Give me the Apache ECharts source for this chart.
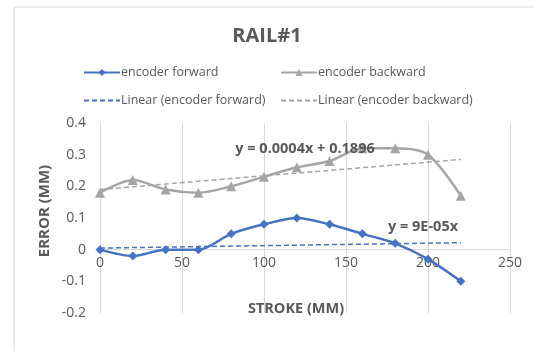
<!DOCTYPE html>
<html><head><meta charset="utf-8">
<script src="https://cdn.jsdelivr.net/npm/echarts@6/dist/echarts.min.js"></script>
<style>html,body{margin:0;padding:0;background:#fff}#c{width:534px;height:351px}</style>
</head><body><div id="c"></div>
<script>
const strokes = [0, 20, 40, 60, 80, 100, 120, 140, 160, 180, 200, 220];
const forward = [0, -0.02, 0, 0, 0.05, 0.08, 0.10, 0.08, 0.05, 0.02, -0.03, -0.10];
const backward = [0.18, 0.22, 0.19, 0.18, 0.20, 0.23, 0.26, 0.28, 0.32, 0.32, 0.30, 0.17];
const trendX = [0, 220];
const trendForward = [0.005, 0.022];
const trendBackward = [0.19, 0.285];
const xTicks = [0, 50, 100, 150, 200, 250];
const yTicks = [-0.2, -0.1, 0, 0.1, 0.2, 0.3, 0.4];
const eqBackward = 'y = 0.0004x + 0.1896';
const eqForward = 'y = 9E-05x';

const BLUE = '#4472C4', GRAY = '#A5A5A5', TXT = '#595959', GRID = '#D9D9D9';
const FONT = 'Open Sans';
const pair = (xs, ys) => xs.map((x, i) => [x, ys[i]]);

const chart = echarts.init(document.getElementById('c'), null, {renderer: 'canvas'});
const legendBase = {orient: 'horizontal', itemWidth: 36, itemHeight: 9, itemGap: 0,
  textStyle: {color: TXT, fontFamily: FONT, fontSize: 12.5, padding: [0, 0, 0, -4]}};
const xMin = xTicks[0], xMax = xTicks[xTicks.length - 1];
chart.setOption({
  animation: false,
  title: {text: 'RAIL#1', left: 'center', top: 21,
    textStyle: {color: TXT, fontFamily: FONT, fontSize: 20, fontWeight: 'bold'}},
  legend: [
    Object.assign({}, legendBase, {left: 78, top: 61, data: ['encoder forward']}),
    Object.assign({}, legendBase, {left: 275, top: 61, data: ['encoder backward']}),
    Object.assign({}, legendBase, {left: 78, top: 89, data: [{name: 'Linear (encoder forward)', itemStyle: {opacity: 0}}]}),
    Object.assign({}, legendBase, {left: 275, top: 89, data: [{name: 'Linear (encoder backward)', itemStyle: {opacity: 0}}]})
  ],
  grid: [
    {left: 100, right: 24, top: 123, bottom: 38},
    {left: 100, right: 24, top: 123, bottom: 101}
  ],
  xAxis: [
    {type: 'value', gridIndex: 0, min: xMin, max: xMax, interval: 50,
      axisLine: {onZero: true, lineStyle: {color: GRID, width: 1}},
      axisTick: {show: false}, axisLabel: {show: false},
      splitLine: {show: true, lineStyle: {color: GRID, width: 1}}},
    {type: 'value', gridIndex: 1, min: xMin, max: xMax, interval: 50,
      axisLine: {show: false}, axisTick: {show: false}, splitLine: {show: false},
      axisLabel: {color: TXT, fontFamily: FONT, fontSize: 14, margin: 6}}
  ],
  yAxis: [
    {type: 'value', gridIndex: 0, min: yTicks[0], max: yTicks[yTicks.length - 1], interval: 0.1,
      axisLine: {show: false}, axisTick: {show: false},
      axisLabel: {color: TXT, fontFamily: FONT, fontSize: 14, margin: 14,
        formatter: v => (Math.round(v * 10) / 10).toString()},
      splitLine: {show: false}},
    {type: 'value', gridIndex: 1, min: 0, max: 1, show: false}
  ],
  graphic: [
    {type: 'rect', shape: {x: 14, y: 7, width: 600, height: 400}, style: {fill: 'none', stroke: GRID, lineWidth: 1}, z: -1},
    {type: 'text', x: 45, y: 211, rotation: Math.PI / 2,
      style: {text: 'ERROR (MM)', fill: TXT, font: 'bold 15px "Open Sans"', textAlign: 'center', textVerticalAlign: 'middle'}},
    {type: 'text', x: 296, y: 309,
      style: {text: 'STROKE (MM)', fill: TXT, font: 'bold 14.5px "Open Sans"', textAlign: 'center', textVerticalAlign: 'middle'}},
    {type: 'text', x: 305, y: 149, z: 100,
      style: {text: eqBackward, fill: TXT, font: 'bold 14.5px "Open Sans"', textAlign: 'center', textVerticalAlign: 'middle'}},
    {type: 'text', x: 423, y: 227, z: 100,
      style: {text: eqForward, fill: TXT, font: 'bold 14.5px "Open Sans"', textAlign: 'center', textVerticalAlign: 'middle'}}
  ],
  series: [
    {name: 'encoder forward', type: 'line', xAxisIndex: 0, yAxisIndex: 0, data: pair(strokes, forward), smooth: 0.3,
      symbol: 'diamond', symbolSize: 9, itemStyle: {color: BLUE}, lineStyle: {color: BLUE, width: 2.5}, z: 5},
    {name: 'encoder backward', type: 'line', xAxisIndex: 0, yAxisIndex: 0, data: pair(strokes, backward), smooth: 0.3,
      symbol: 'triangle', symbolSize: 10, itemStyle: {color: GRAY}, lineStyle: {color: GRAY, width: 2.5}, z: 4},
    {name: 'Linear (encoder forward)', type: 'line', xAxisIndex: 0, yAxisIndex: 0, data: pair(trendX, trendForward), symbol: 'none',
      itemStyle: {color: BLUE}, lineStyle: {color: BLUE, width: 1.5, type: [5, 3]}, z: 3},
    {name: 'Linear (encoder backward)', type: 'line', xAxisIndex: 0, yAxisIndex: 0, data: pair(trendX, trendBackward), symbol: 'none',
      itemStyle: {color: GRAY}, lineStyle: {color: GRAY, width: 1.5, type: [5, 3]}, z: 3}
  ]
});
</script></body></html>
